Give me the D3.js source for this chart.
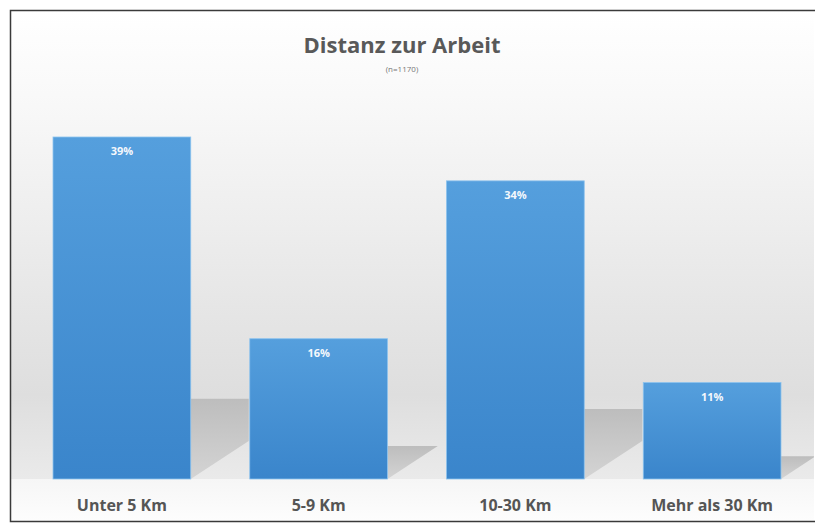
<!DOCTYPE html>
<html>
<head>
<meta charset="utf-8">
<script src="https://cdn.jsdelivr.net/npm/d3@7"></script>
<style>
  body { margin: 0; background: #fff; }
  svg { display: block; }
</style>
</head>
<body>
<script>
// Data
var categories = ["Unter 5 Km", "5-9 Km", "10-30 Km", "Mehr als 30 Km"];
var values = [39, 16, 34, 11];
var title = "Distanz zur Arbeit";
var subtitle = "(n=1170)";

var w = 815, h = 524;
var baseline = 479;

var svg = d3.select("body").append("svg")
  .attr("width", w)
  .attr("height", h)
  .attr("font-family", "'Open Sans', 'Noto Sans', sans-serif");

var defs = svg.append("defs");

// wall gradient
var wall = defs.append("linearGradient")
  .attr("id", "wall").attr("x1", 0).attr("y1", 0).attr("x2", 0).attr("y2", 1);
wall.append("stop").attr("offset", "0%").attr("stop-color", "#ffffff");
wall.append("stop").attr("offset", "18%").attr("stop-color", "#f9f9f9");
wall.append("stop").attr("offset", "82%").attr("stop-color", "#dedede");
wall.append("stop").attr("offset", "100%").attr("stop-color", "#eaeaea");

var floor = defs.append("linearGradient")
  .attr("id", "floor").attr("x1", 0).attr("y1", 0).attr("x2", 0).attr("y2", 1);
floor.append("stop").attr("offset", "0%").attr("stop-color", "#f6f6f6");
floor.append("stop").attr("offset", "100%").attr("stop-color", "#fdfdfd");

var barGrad = defs.append("linearGradient")
  .attr("id", "bar").attr("x1", 0).attr("y1", 0).attr("x2", 0).attr("y2", 1);
barGrad.append("stop").attr("offset", "0%").attr("stop-color", "#559fdd");
barGrad.append("stop").attr("offset", "100%").attr("stop-color", "#3a85cb");

var shadowGrad = defs.append("linearGradient")
  .attr("id", "shadow").attr("x1", 0).attr("y1", 0).attr("x2", 0).attr("y2", 1);
shadowGrad.append("stop").attr("offset", "0%").attr("stop-color", "#bdbdbd");
shadowGrad.append("stop").attr("offset", "100%").attr("stop-color", "#d4d4d4");

defs.append("clipPath").attr("id", "frameClip")
  .append("rect").attr("x", 11).attr("y", 11).attr("width", 803).attr("height", 510);

// background
svg.append("rect")
  .attr("x", 11).attr("y", 11).attr("width", 803).attr("height", baseline - 11)
  .attr("fill", "url(#wall)");
svg.append("rect")
  .attr("x", 11).attr("y", baseline).attr("width", 803).attr("height", 521 - baseline)
  .attr("fill", "url(#floor)");

// scales
var x = d3.scaleBand()
  .domain(categories)
  .range([23.5, 810.5])
  .paddingInner(0.3)
  .paddingOuter(0.15);

var y = d3.scaleLinear()
  .domain([0, 39])
  .range([baseline, 137]);

// shadows
var sw = 58, sd = 38;
svg.append("g").attr("clip-path", "url(#frameClip)")
  .selectAll("path")
  .data(values)
  .enter().append("path")
  .attr("fill", "url(#shadow)")
  .attr("d", function(d, i) {
    var xr = x(categories[i]) + x.bandwidth();
    var top = baseline - (baseline - y(d)) * 0.235;
    var slope = sd / sw;
    if (baseline - top > sd) {
      return "M" + xr + "," + top + "L" + (xr + sw) + "," + top +
        "L" + (xr + sw) + "," + (baseline - sd) + "L" + xr + "," + baseline + "Z";
    }
    var dx = (baseline - top) / slope;
    return "M" + xr + "," + top + "L" + (xr + dx) + "," + top + "L" + xr + "," + baseline + "Z";
  });

// bars
svg.append("g")
  .selectAll("rect")
  .data(values)
  .enter().append("rect")
  .attr("x", function(d, i) { return x(categories[i]); })
  .attr("y", function(d) { return y(d); })
  .attr("width", x.bandwidth())
  .attr("height", function(d) { return baseline - y(d); })
  .attr("fill", "url(#bar)")
  .attr("stroke", "#8cc3ee")
  .attr("stroke-width", 0.8);

// value labels
svg.append("g")
  .selectAll("text")
  .data(values)
  .enter().append("text")
  .attr("x", function(d, i) { return x(categories[i]) + x.bandwidth() / 2; })
  .attr("y", function(d) { return y(d) + 18; })
  .attr("text-anchor", "middle")
  .attr("font-size", "11px")
  .attr("font-weight", "bold")
  .attr("fill", "#f4f8fc")
  .text(function(d) { return d + "%"; });

// category labels
svg.append("g")
  .selectAll("text")
  .data(categories)
  .enter().append("text")
  .attr("x", function(d) { return x(d) + x.bandwidth() / 2; })
  .attr("y", 511)
  .attr("text-anchor", "middle")
  .attr("font-size", "16px")
  .attr("font-weight", "bold")
  .attr("fill", "#555555")
  .text(function(d) { return d; });

// title
svg.append("text")
  .attr("x", 402).attr("y", 53)
  .attr("text-anchor", "middle")
  .attr("font-size", "22px")
  .attr("font-weight", "bold")
  .attr("fill", "#595959")
  .text(title);

svg.append("text")
  .attr("x", 402).attr("y", 72)
  .attr("text-anchor", "middle")
  .attr("font-size", "8px")
  .attr("fill", "#777777")
  .text(subtitle);

// frame
svg.append("rect")
  .attr("x", 10.5).attr("y", 10.5).attr("width", 806).attr("height", 511)
  .attr("fill", "none")
  .attr("stroke", "#3a3a3a")
  .attr("stroke-width", 1.5);
</script>
</body>
</html>
